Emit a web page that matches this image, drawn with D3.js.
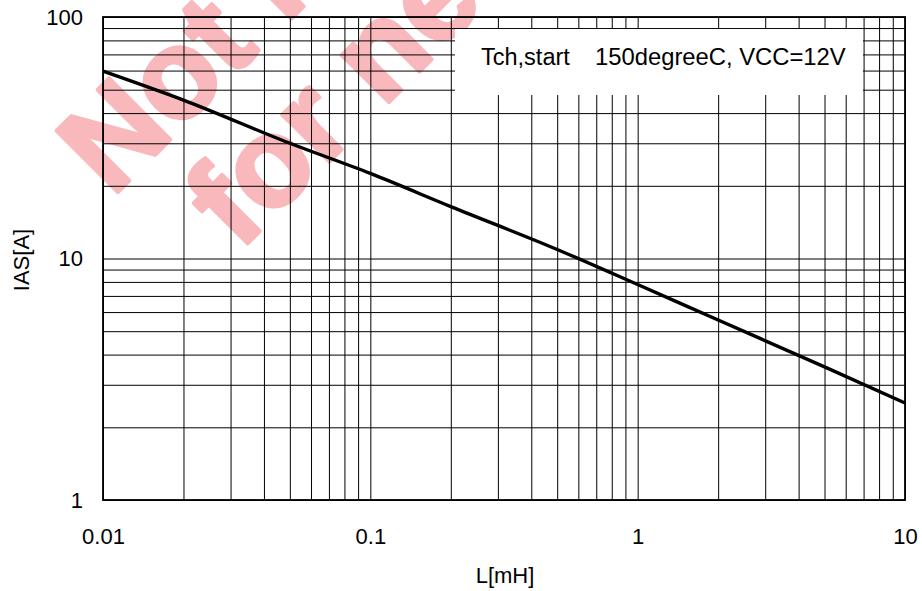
<!DOCTYPE html>
<html>
<head>
<meta charset="utf-8">
<script src="https://cdn.jsdelivr.net/npm/d3@7"></script>
<style>
  html, body { margin: 0; padding: 0; background: #fff; }
  svg { display: block; font-family: Arial, "Liberation Sans", sans-serif; }
</style>
</head>
<body>
<svg id="chart" width="922" height="591"></svg>
<script>
// ---- data ----
const inductance = [0.01, 0.02, 0.05, 0.1, 0.2, 0.5, 1, 2, 5, 10];          // L [mH]
const avalancheCurrent = [59.7, 45.3, 30.0, 22.5, 16.4, 10.9, 7.8, 5.56, 3.56, 2.52]; // IAS [A]
const xTickValues = [0.01, 0.1, 1, 10];
const xTickLabels = ["0.01", "0.1", "1", "10"];
const yTickValues = [1, 10, 100];
const yTickLabels = ["1", "10", "100"];
const xTitle = "L[mH]";
const yTitle = "IAS[A]";
const legendLeft = "Tch,start";
const legendRight = "150degreeC, VCC=12V";
const watermarkLines = ["Not recommended", "for new design"];

// ---- layout ----
const margin = { left: 103, top: 17, right: 922 - 905, bottom: 591 - 500 };
const W = 922, H = 591;
const iw = W - margin.left - margin.right;
const ih = H - margin.top - margin.bottom;

const svg = d3.select("#chart");
const x = d3.scaleLog().domain([0.01, 10]).range([margin.left, margin.left + iw]);
const y = d3.scaleLog().domain([1, 100]).range([margin.top + ih, margin.top]);

// watermark (below grid)
const wm = svg.append("g").attr("transform", "translate(112,198) rotate(-45)");
wm.selectAll("text").data(watermarkLines).join("text")
  .attr("x", 0)
  .attr("y", (d, i) => i * 128)
  .attr("dx", (d, i) => i * 52)
  .attr("font-weight", "bold")
  .attr("font-size", 126)
  .attr("fill", "rgb(249,185,188)")
  .attr("stroke", "rgb(249,185,188)")
  .attr("stroke-width", 4)
  .attr("stroke-linejoin", "round")
  .text(d => d);

// grid lines
const minorX = [];
for (let e = -2; e < 1; e++) for (let m = 1; m <= 9; m++) minorX.push(m * Math.pow(10, e));
minorX.push(10);
const minorY = [];
for (let e = 0; e < 2; e++) for (let m = 1; m <= 9; m++) minorY.push(m * Math.pow(10, e));
minorY.push(100);

const grid = svg.append("g");
grid.append("g")
  .attr("transform", `translate(0,${margin.top + ih})`)
  .call(d3.axisBottom(x).tickValues(minorX).tickSize(-ih).tickFormat(""))
  .call(g => g.select(".domain").remove())
  .call(g => g.selectAll("line").attr("stroke", "#000").attr("stroke-width", 1));
grid.append("g")
  .attr("transform", `translate(${margin.left},0)`)
  .call(d3.axisLeft(y).tickValues(minorY).tickSize(-iw).tickFormat(""))
  .call(g => g.select(".domain").remove())
  .call(g => g.selectAll("line").attr("stroke", "#000").attr("stroke-width", 1));

// legend box
svg.append("rect")
  .attr("x", 455).attr("y", 29).attr("width", 863 - 455).attr("height", 95 - 29)
  .attr("fill", "#fff");
svg.append("text").attr("x", 481).attr("y", 65).attr("font-size", 23.5).attr("fill", "#000").text(legendLeft);
svg.append("text").attr("x", 595).attr("y", 65).attr("font-size", 23.8).attr("fill", "#000").text(legendRight);

// frame
svg.append("rect")
  .attr("x", margin.left).attr("y", margin.top).attr("width", iw).attr("height", ih)
  .attr("fill", "none").attr("stroke", "#000").attr("stroke-width", 1.8);

// curve
const line = d3.line()
  .x((d, i) => x(inductance[i]))
  .y(d => y(d))
  .curve(d3.curveMonotoneX);
svg.append("path")
  .datum(avalancheCurrent)
  .attr("d", line)
  .attr("fill", "none")
  .attr("stroke", "#000")
  .attr("stroke-width", 3.4)
  .attr("stroke-linejoin", "round");

// axes labels
svg.append("g")
  .attr("transform", `translate(0,${margin.top + ih})`)
  .call(d3.axisBottom(x).tickValues(xTickValues).tickSize(0).tickPadding(28)
        .tickFormat((d, i) => xTickLabels[i]))
  .call(g => g.select(".domain").remove())
  .call(g => g.selectAll("text").attr("font-size", 22).attr("fill", "#000")
        .attr("font-family", "Arial, 'Liberation Sans', sans-serif"));

svg.append("g")
  .attr("transform", `translate(${margin.left},0)`)
  .call(d3.axisLeft(y).tickValues(yTickValues).tickSize(0).tickPadding(20)
        .tickFormat((d, i) => yTickLabels[i]))
  .call(g => g.select(".domain").remove())
  .call(g => g.selectAll("text").attr("font-size", 22).attr("fill", "#000")
        .attr("font-family", "Arial, 'Liberation Sans', sans-serif"));

// titles
svg.append("text").attr("x", 505).attr("y", 583).attr("text-anchor", "middle")
  .attr("font-size", 22).attr("fill", "#000").text(xTitle);
svg.append("text").attr("transform", "translate(29,260) rotate(-90)").attr("text-anchor", "middle")
  .attr("font-size", 22).attr("fill", "#000").text(yTitle);
</script>
</body>
</html>
